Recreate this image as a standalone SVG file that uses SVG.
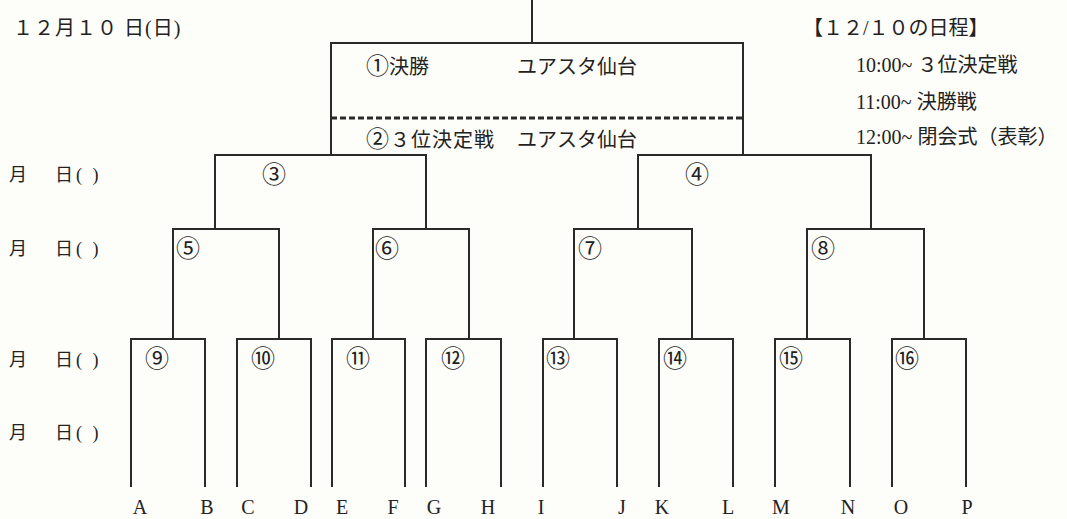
<svg xmlns="http://www.w3.org/2000/svg" width="1067" height="519" viewBox="0 0 1067 519">
<style>
.ln{fill:none;stroke:#2a2a2a;stroke-width:2}
.dash{fill:none;stroke:#2a2a2a;stroke-width:3;stroke-dasharray:6 3}
.t{font-family:"Liberation Serif","Noto Sans CJK JP",serif;fill:#222;font-size:20px}
.big{font-family:"Noto Sans CJK JP",sans-serif;font-size:23px}
.c{font-family:"Noto Sans CJK JP",sans-serif;fill:#222;font-size:24px;text-anchor:middle}
.lt{font-family:"Liberation Serif","Noto Sans CJK JP",serif;fill:#222;font-size:20px;text-anchor:middle}
.d{font-family:"Liberation Serif","Noto Sans CJK JP",serif;fill:#222;font-size:18px}
</style>
<rect width="1067" height="519" fill="#fdfdf9"/>
<g id="date"><text class="t" x="13" y="35" letter-spacing="1">１２月１０ 日(日)</text></g>
<g id="schedule">
<text class="t" x="803" y="35">【１２/１０の日程】</text>
<text class="t" x="856" y="72">10:00~  ３位決定戦</text>
<text class="t" x="856" y="109">11:00~ 決勝戦</text>
<text class="t" x="856" y="144">12:00~ 閉会式（表彰）</text>
</g>
<g id="round-dates">
<text class="d" x="9" y="181">月</text><text class="d" x="55" y="181" letter-spacing="3">日( )</text>
<text class="d" x="9" y="255">月</text><text class="d" x="55" y="255" letter-spacing="3">日( )</text>
<text class="d" x="9" y="366">月</text><text class="d" x="55" y="366" letter-spacing="3">日( )</text>
<text class="d" x="9" y="439">月</text><text class="d" x="55" y="439" letter-spacing="3">日( )</text>
</g>
<g id="connectors">
<path class="ln" d="M532 0V43"/>
<path class="ln" d="M331 155V43H743V155"/>
<path class="dash" d="M331 118H743"/>
<path class="ln" d="M215 229V155H426V229"/>
<path class="ln" d="M638 229V155H871V229"/>
<path class="ln" d="M173 339V229H279V339"/>
<path class="ln" d="M373 339V229H469V339"/>
<path class="ln" d="M574 339V229H692V339"/>
<path class="ln" d="M807 339V229H924V339"/>
<path class="ln" d="M131 487V339H205V487"/>
<path class="ln" d="M237 487V339H311V487"/>
<path class="ln" d="M332 487V339H405V487"/>
<path class="ln" d="M426 487V339H501V487"/>
<path class="ln" d="M543 487V339H617V487"/>
<path class="ln" d="M659 487V339H733V487"/>
<path class="ln" d="M775 487V339H850V487"/>
<path class="ln" d="M892 487V339H966V487"/>
</g>
<g id="m1"><text class="t" x="366" y="74"><tspan class="big">①</tspan>決勝</text><text class="t" x="517" y="74">ユアスタ仙台</text></g>
<g id="m2"><text class="t" x="366" y="147" letter-spacing="1"><tspan class="big">②</tspan>３位決定戦</text><text class="t" x="517" y="147">ユアスタ仙台</text></g>
<g id="m3"><text class="c" x="274" y="183">③</text></g>
<g id="m4"><text class="c" x="697" y="183">④</text></g>
<g id="m5"><text class="c" x="188" y="257">⑤</text></g>
<g id="m6"><text class="c" x="387" y="257">⑥</text></g>
<g id="m7"><text class="c" x="590" y="257">⑦</text></g>
<g id="m8"><text class="c" x="823" y="257">⑧</text></g>
<g id="m9"><text class="c" x="157" y="367">⑨</text></g>
<g id="m10"><text class="c" x="263" y="367">⑩</text></g>
<g id="m11"><text class="c" x="358" y="367">⑪</text></g>
<g id="m12"><text class="c" x="453" y="367">⑫</text></g>
<g id="m13"><text class="c" x="558" y="367">⑬</text></g>
<g id="m14"><text class="c" x="675" y="367">⑭</text></g>
<g id="m15"><text class="c" x="791" y="367">⑮</text></g>
<g id="m16"><text class="c" x="907" y="367">⑯</text></g>
<g id="teams">
<text class="lt" x="140" y="514">A</text>
<text class="lt" x="207" y="514">B</text>
<text class="lt" x="248" y="514">C</text>
<text class="lt" x="301" y="514">D</text>
<text class="lt" x="342" y="514">E</text>
<text class="lt" x="393" y="514">F</text>
<text class="lt" x="434" y="514">G</text>
<text class="lt" x="488" y="514">H</text>
<text class="lt" x="541" y="514">I</text>
<text class="lt" x="622" y="514">J</text>
<text class="lt" x="662" y="514">K</text>
<text class="lt" x="728" y="514">L</text>
<text class="lt" x="781" y="514">M</text>
<text class="lt" x="848" y="514">N</text>
<text class="lt" x="901" y="514">O</text>
<text class="lt" x="967" y="514">P</text>
</g>
</svg>
